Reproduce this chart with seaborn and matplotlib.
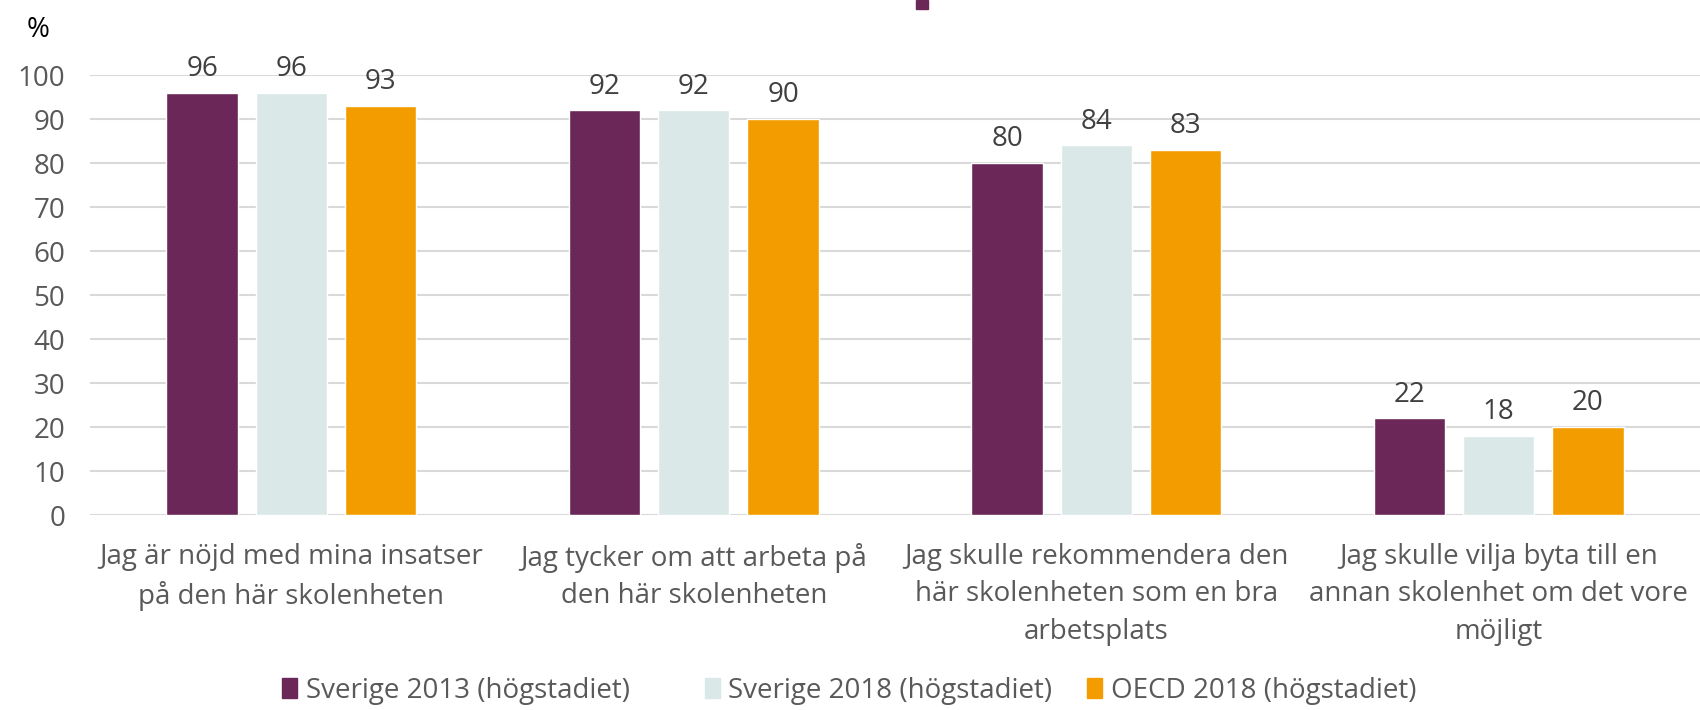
import matplotlib
matplotlib.use("Agg")
import matplotlib.pyplot as plt
import seaborn as sns
import pandas as pd
from matplotlib.patches import Rectangle

categories = [
    "Jag är nöjd med mina insatser\npå den här skolenheten",
    "Jag tycker om att arbeta på\nden här skolenheten",
    "Jag skulle rekommendera den\nhär skolenheten som en bra\narbetsplats",
    "Jag skulle vilja byta till en\nannan skolenhet om det vore\nmöjligt",
]
series = ["Sverige 2013 (högstadiet)", "Sverige 2018 (högstadiet)", "OECD 2018 (högstadiet)"]
sverige_2013 = [96, 92, 80, 22]
sverige_2018 = [96, 92, 84, 18]
oecd_2018 = [93, 90, 83, 20]
colors = ["#6A2757", "#DAE8E8", "#F39C00"]
yticks = [0, 10, 20, 30, 40, 50, 60, 70, 80, 90, 100]

rows = []
for s, vals in zip(series, [sverige_2013, sverige_2018, oecd_2018]):
    for c, v in zip(categories, vals):
        rows.append({"cat": c, "serie": s, "val": v})
df = pd.DataFrame(rows)

sns.set_theme(style="white")
plt.rcParams["font.family"] = ["Open Sans", "DejaVu Sans"]

FS = 20
fig = plt.figure(figsize=(17, 7.1), dpi=100)
ax = fig.add_axes([0.053, 0.2746, 0.947, 0.6197])

sns.barplot(data=df, x="cat", y="val", hue="serie", order=categories,
            hue_order=series, palette=colors, width=0.665, gap=0.2,
            saturation=1, ax=ax, legend=True, errorbar=None)

for cont in ax.containers:
    ax.bar_label(cont, padding=7, fontsize=FS, color="#404040")

ax.set_xlim(-0.5, 3.5)
ax.set_ylim(0, 100)
ax.set_yticks(yticks)
ax.set_yticklabels([str(t) for t in yticks])
ax.tick_params(axis="y", labelsize=FS, labelcolor="#595959", pad=18, length=0)
ax.tick_params(axis="x", labelsize=FS, labelcolor="#595959", pad=20, length=0)
for lab in ax.get_xticklabels():
    lab.set_linespacing(1.45)
ax.set_xlabel("")
ax.set_ylabel("")
ax.yaxis.grid(True, color="#D9D9D9", linewidth=1.5)
ax.set_axisbelow(True)
for sp in ax.spines.values():
    sp.set_visible(False)

ax.legend_.remove()
legend_x = [0.166, 0.4145, 0.6395]
for s, c, lx in zip(series, colors, legend_x):
    fig.legend([Rectangle((0, 0), 1, 1, color=c)], [s], loc="center left",
               bbox_to_anchor=(lx, 0.027), frameon=False, fontsize=FS,
               handlelength=0.55, handleheight=0.75, handletextpad=0.3,
               borderpad=0, borderaxespad=0, labelcolor="#595959")

fig.text(0.0224, 0.958, "%", fontsize=FS, color="#000000", ha="center", va="center")
fig.patches.append(Rectangle((0.539, 0.987), 0.007, 0.013, transform=fig.transFigure,
                             color="#6A2757", figure=fig))

fig.savefig("out.png", dpi=100)
